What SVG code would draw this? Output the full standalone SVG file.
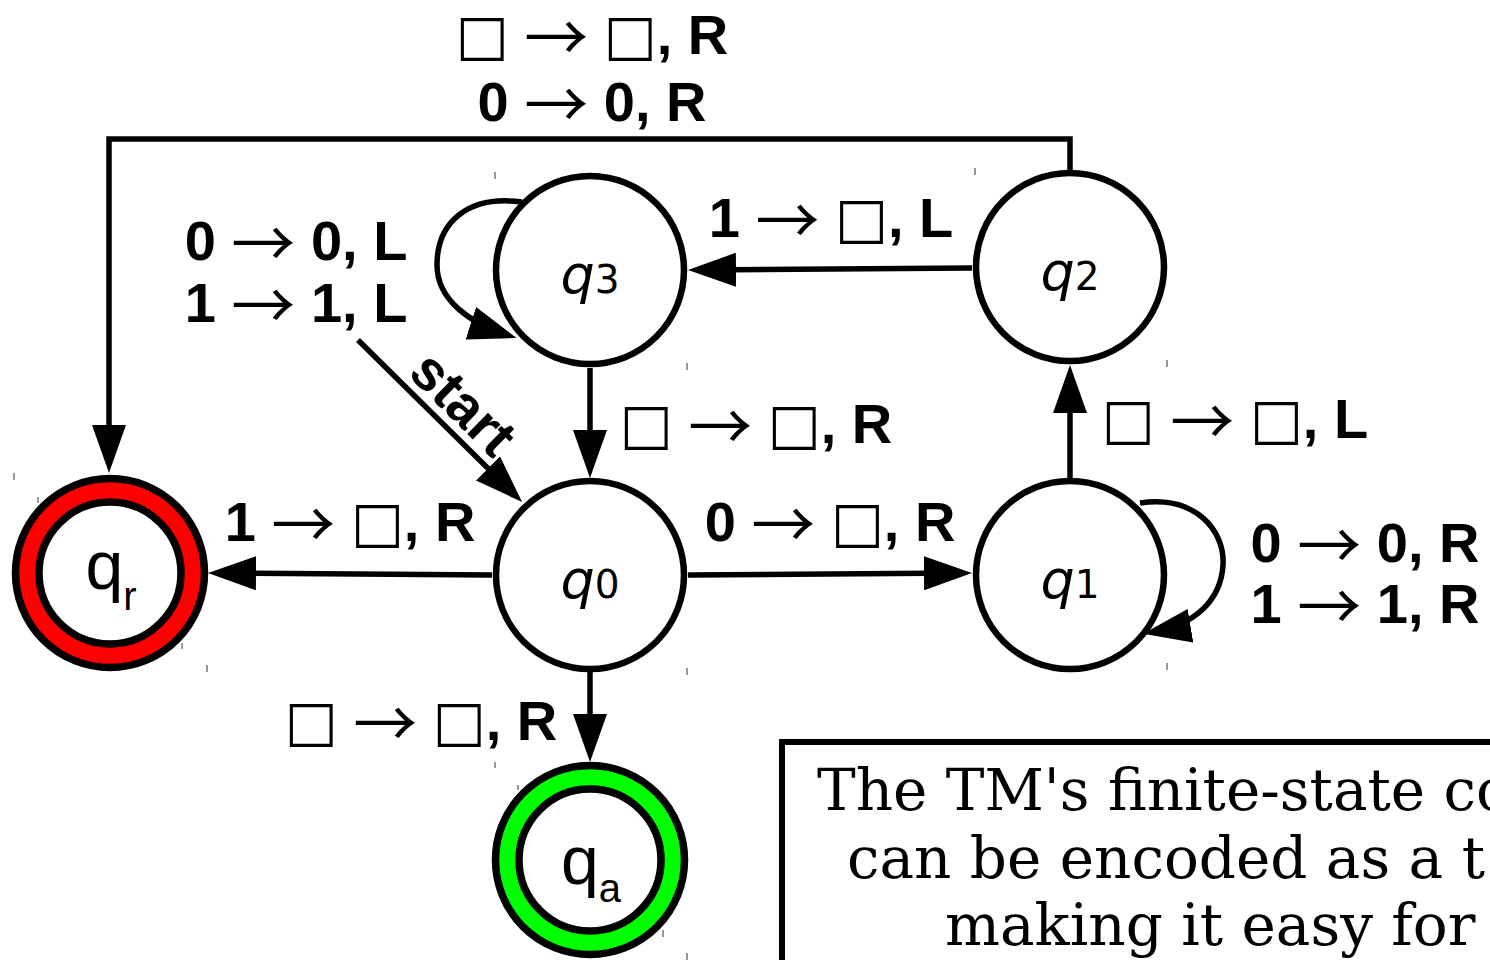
<svg xmlns="http://www.w3.org/2000/svg" width="1490" height="960" viewBox="0 0 1490 960">
<style>
.st{fill:#fff;stroke:#000;stroke-width:6.5}
.edge{fill:none;stroke:#000;stroke-width:5.5;marker-end:url(#ah)}
.lbl{font-family:"Liberation Sans",Arial,sans-serif;font-weight:bold;font-size:56px;text-anchor:middle;fill:#000}
.sq{font-family:"DejaVu Sans",sans-serif;font-weight:normal}
.ar{font-family:"Noto Sans CJK SC",sans-serif;font-weight:normal;font-size:64px}
.qi{font-family:"DejaVu Sans",sans-serif;font-style:italic;font-size:54px}
.qd{font-family:"DejaVu Sans",sans-serif;font-size:39px}
.ql{text-anchor:middle;fill:#000}
.qf{font-family:"Liberation Sans",Arial,sans-serif;font-size:68px;text-anchor:middle;fill:#000}
.tk{stroke:#555;stroke-width:1.2}
.note{font-family:"DejaVu Serif",serif;font-size:58px;fill:#000}
</style>
<defs>
<marker id="ah" markerUnits="userSpaceOnUse" viewBox="0 0 48 34" markerWidth="48" markerHeight="34" refX="38" refY="17" orient="auto">
<path d="M0,0 L48,17 L0,34 z" fill="#000"/>
</marker>
</defs>
<rect width="1490" height="960" fill="#fff"/>

<g id="ticks">
<line class="tk" x1="14" y1="473" x2="14" y2="480"/>
<line class="tk" x1="38" y1="497" x2="38" y2="503"/>
<line class="tk" x1="182" y1="643" x2="182" y2="649"/>
<line class="tk" x1="207" y1="665" x2="207" y2="672"/>
<line class="tk" x1="495" y1="172" x2="495" y2="179"/>
<line class="tk" x1="687" y1="363" x2="687" y2="370"/>
<line class="tk" x1="975" y1="168" x2="975" y2="175"/>
<line class="tk" x1="1167" y1="360" x2="1167" y2="367"/>
<line class="tk" x1="687" y1="668" x2="687" y2="675"/>
<line class="tk" x1="1167" y1="663" x2="1167" y2="670"/>
<line class="tk" x1="495" y1="762" x2="495" y2="768"/>
<line class="tk" x1="518" y1="785" x2="518" y2="790"/>
<line class="tk" x1="663" y1="930" x2="663" y2="937"/>
<line class="tk" x1="687" y1="953" x2="687" y2="960"/>
</g>

<g id="connectors">
<path class="edge" d="M1070,170 L1070,139 L109,139 L109,463"/>
<path class="edge" d="M972,268 L698,270"/>
<path class="edge" d="M590,368 L590,468"/>
<path class="edge" d="M1070,478 L1070,375"/>
<path class="edge" d="M492,575 L218,573"/>
<path class="edge" d="M688,575 L962,573"/>
<path class="edge" d="M590,672 L590,752"/>
<path class="edge" d="M358,340 L515,495"/>
<path class="edge" d="M522,202 C468,195 437,222 437,265 C437,300 470,323 507,335"/>
<path class="edge" d="M1140,503 C1195,495 1225,530 1223,565 C1221,600 1195,625 1153,632"/>
<text class="lbl" x="592" y="54"><tspan class="sq">□</tspan> <tspan class="ar" dy="7">→</tspan><tspan dy="-7"> </tspan><tspan class="sq">□</tspan>, R</text>
<text class="lbl" x="592" y="121">0 <tspan class="ar" dy="7">→</tspan><tspan dy="-7"> 0, R</tspan></text>
<text class="lbl" x="296" y="260">0 <tspan class="ar" dy="7">→</tspan><tspan dy="-7"> 0, L</tspan></text>
<text class="lbl" x="296" y="322">1 <tspan class="ar" dy="7">→</tspan><tspan dy="-7"> 1, L</tspan></text>
<text class="lbl" x="831" y="237">1 <tspan class="ar" dy="7">→</tspan><tspan dy="-7"> </tspan><tspan class="sq">□</tspan>, L</text>
<text class="lbl" x="756" y="443"><tspan class="sq">□</tspan> <tspan class="ar" dy="7">→</tspan><tspan dy="-7"> </tspan><tspan class="sq">□</tspan>, R</text>
<text class="lbl" x="1235" y="438"><tspan class="sq">□</tspan> <tspan class="ar" dy="7">→</tspan><tspan dy="-7"> </tspan><tspan class="sq">□</tspan>, L</text>
<text class="lbl" x="350" y="541">1 <tspan class="ar" dy="7">→</tspan><tspan dy="-7"> </tspan><tspan class="sq">□</tspan>, R</text>
<text class="lbl" x="830" y="541">0 <tspan class="ar" dy="7">→</tspan><tspan dy="-7"> </tspan><tspan class="sq">□</tspan>, R</text>
<text class="lbl" x="1365" y="562">0 <tspan class="ar" dy="7">→</tspan><tspan dy="-7"> 0, R</tspan></text>
<text class="lbl" x="1365" y="623">1 <tspan class="ar" dy="7">→</tspan><tspan dy="-7"> 1, R</tspan></text>
<text class="lbl" x="421" y="740"><tspan class="sq">□</tspan> <tspan class="ar" dy="7">→</tspan><tspan dy="-7"> </tspan><tspan class="sq">□</tspan>, R</text>
<text class="lbl" x="450" y="417" font-size="47" transform="rotate(44.6 450 417)">start</text>
</g>

<g id="q3">
<circle class="st" cx="590" cy="270" r="94"/>
<text class="ql" x="590" y="293"><tspan class="qi">q</tspan><tspan class="qd">3</tspan></text>
</g>
<g id="q2">
<circle class="st" cx="1070" cy="267" r="94"/>
<text class="ql" x="1070" y="290"><tspan class="qi">q</tspan><tspan class="qd">2</tspan></text>
</g>
<g id="q0">
<circle class="st" cx="590" cy="575" r="94"/>
<text class="ql" x="590" y="598"><tspan class="qi">q</tspan><tspan class="qd">0</tspan></text>
</g>
<g id="q1">
<circle class="st" cx="1070" cy="575" r="94"/>
<text class="ql" x="1070" y="598"><tspan class="qi">q</tspan><tspan class="qd">1</tspan></text>
</g>
<g id="qr">
<circle cx="110" cy="573" r="94.5" fill="#ff0000" stroke="#000" stroke-width="7.5"/>
<circle cx="110" cy="573" r="71" fill="#fff" stroke="#000" stroke-width="7.5"/>
<text class="qf" x="111" y="589">q<tspan font-size="40" dy="21">r</tspan></text>
</g>
<g id="qa">
<circle cx="590" cy="860" r="94.5" fill="#00ff00" stroke="#000" stroke-width="7.5"/>
<circle cx="590" cy="860" r="71" fill="#fff" stroke="#000" stroke-width="7.5"/>
<text class="qf" x="591" y="884">q<tspan font-size="40" dy="18">a</tspan></text>
</g>

<g id="note">
<rect x="782" y="742" width="800" height="300" fill="#fff" stroke="#000" stroke-width="6"/>
<text class="note" x="817" y="810">The TM's finite-state co</text>
<text class="note" x="847" y="878">can be encoded as a t</text>
<text class="note" x="945" y="945">making it easy for</text>
</g>
</svg>
